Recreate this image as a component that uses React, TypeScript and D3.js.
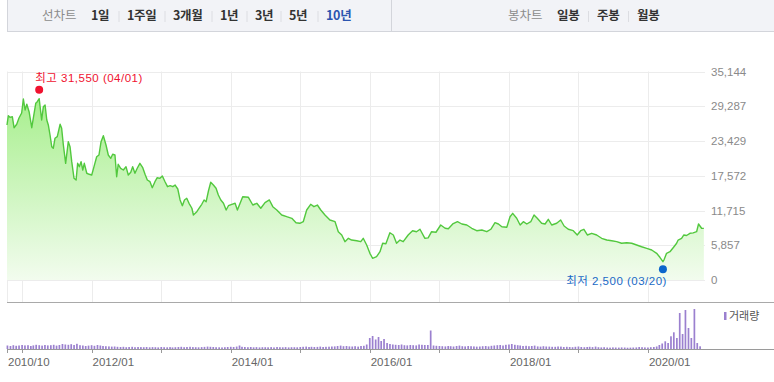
import React from "react";
import * as d3 from "d3";

const W = 774;
const H = 382;

// ---- price series (closing price, KRW) ----
const priceDates = [
  "2010-10-14","2010-10-21","2010-10-30","2010-11-11","2010-11-20","2010-12-04","2010-12-16","2010-12-30",
  "2011-01-08","2011-01-17","2011-01-26","2011-02-07","2011-02-21","2011-03-01","2011-03-14","2011-03-22",
  "2011-04-01","2011-04-14","2011-04-23","2011-05-02","2011-05-11","2011-05-19","2011-05-28","2011-06-06",
  "2011-06-14","2011-06-23","2011-07-05","2011-07-20","2011-07-28","2011-08-06","2011-08-18","2011-09-01",
  "2011-09-10","2011-09-19","2011-10-01","2011-10-12","2011-10-20","2011-10-29","2011-11-07","2011-11-16",
  "2011-11-24","2011-12-07","2011-12-20","2012-01-02","2012-01-14","2012-01-28","2012-02-09","2012-02-20",
  "2012-03-03","2012-03-17","2012-03-29","2012-04-11","2012-04-21","2012-05-03","2012-05-12","2012-05-20",
  "2012-06-02","2012-06-16","2012-06-30","2012-07-12","2012-07-25","2012-08-04","2012-08-16","2012-08-28",
  "2012-09-11","2012-09-26","2012-10-08","2012-10-20","2012-11-03","2012-11-15","2012-11-29","2012-12-11",
  "2012-12-25","2013-01-07","2013-01-21","2013-02-03","2013-02-17","2013-03-03","2013-03-15","2013-03-29",
  "2013-04-10","2013-04-22","2013-05-03","2013-05-15","2013-05-27","2013-06-11","2013-06-19","2013-07-07",
  "2013-07-21","2013-08-02","2013-08-14","2013-08-25","2013-09-06","2013-09-18","2013-10-02","2013-10-16",
  "2013-10-28","2013-11-10","2013-11-24","2013-12-08","2013-12-20","2014-01-07","2014-01-24","2014-02-05",
  "2014-03-05","2014-04-04","2014-04-27","2014-05-18","2014-06-08","2014-06-30","2014-07-23","2014-08-10",
  "2014-08-31","2014-09-26","2014-10-22","2014-11-18","2014-12-10","2014-12-30","2015-01-17","2015-02-04",
  "2015-02-25","2015-03-14","2015-04-01","2015-04-19","2015-05-11","2015-06-06","2015-07-03","2015-07-20",
  "2015-08-07","2015-08-24","2015-09-11","2015-09-28","2015-10-25","2015-11-15","2015-11-28","2015-12-16",
  "2016-01-02","2016-01-16","2016-02-06","2016-02-24","2016-03-09","2016-03-26","2016-04-16","2016-05-04",
  "2016-05-21","2016-06-08","2016-06-25","2016-07-21","2016-08-13","2016-09-03","2016-09-21","2016-10-17",
  "2016-11-03","2016-11-21","2016-12-14","2017-01-08","2017-01-31","2017-02-17","2017-03-12","2017-04-06",
  "2017-04-29","2017-05-25","2017-06-20","2017-07-16","2017-08-12","2017-09-07","2017-09-28","2017-10-20",
  "2017-11-07","2017-11-25","2017-12-21","2018-01-07","2018-01-21","2018-02-11","2018-03-01","2018-03-18",
  "2018-04-05","2018-04-26","2018-05-13","2018-05-30","2018-06-22","2018-07-10","2018-07-27","2018-08-14",
  "2018-09-09","2018-09-30","2018-10-18","2018-11-09","2018-12-05","2018-12-26","2019-01-13","2019-01-30",
  "2019-02-17","2019-03-12","2019-04-07","2019-05-03","2019-05-30","2019-06-25","2019-07-21","2019-08-16",
  "2019-09-12","2019-10-08","2019-11-03","2019-11-29","2019-12-26","2020-01-21","2020-02-16","2020-03-04",
  "2020-03-20","2020-03-27","2020-04-08","2020-04-26","2020-05-17","2020-05-31","2020-06-08","2020-06-26",
  "2020-07-08","2020-07-22","2020-08-09","2020-08-26","2020-09-13","2020-09-23","2020-10-09","2020-10-21",
];
const priceValues = [
  26130,27690,27420,27530,25670,26250,27310,28150,
  30510,28660,29620,28370,25670,27260,29790,30050,
  30560,26970,29210,29500,26970,26130,24440,22470,
  22200,23890,24160,26250,25570,22760,19670,23310,
  22470,19940,17140,16860,19670,19100,19940,18540,
  19670,17990,17820,17700,19100,20780,21070,23310,
  24320,22760,21070,20510,21190,21070,17410,19500,
  18830,18540,19100,17700,18150,19100,17990,18830,
  19670,18930,17820,16860,16570,15560,16570,17240,
  17140,17530,16570,15730,15900,15730,16010,15340,
  13490,12520,13490,13770,12930,12090,10960,11510,
  12190,12760,13490,13200,15000,16470,16010,15460,
  14330,13490,12930,11800,12520,12760,12930,11800,
  14040,13940,12640,12930,12090,13030,13490,12360,
  11800,10960,10670,10400,9660,9560,9830,11800,
  12760,12360,12640,11800,10960,10110,9830,8140,
  7590,6460,7030,6740,6620,6460,7030,5900,
  4500,3660,3930,4770,6190,6100,7970,7590,
  6190,6740,6460,7590,8310,8140,8550,7030,
  7100,8140,8050,9270,8720,8650,9440,9830,
  9440,9270,8720,8310,8430,8140,8550,9660,
  9440,8980,8900,10670,11240,10400,9270,9830,
  9440,9830,10960,10400,9560,9440,10230,9270,
  9560,10110,9100,8550,8310,7590,8310,8550,
  7590,7870,7590,7030,6740,6620,6460,6190,
  6290,6190,5900,5610,5340,5060,4500,3830,
  3080,3490,4500,4770,5610,6190,6740,7030,
  7590,7500,7870,7950,8140,9440,8720,8700,
];

// ---- volume, half-month buckets starting 2010-10 (2nd half) ----
const volumeStart = "2010-10-16";
const volumeValues = [
  35, 30,38, 32,35,
  40,36, 38,30, 36,42, 38,34, 40,36, 38,42, 34,40, 50,45, 42,48, 40,52, 38,35, 30,34,
  38,32, 40,35, 30,28, 26,24, 25,22, 20,22, 18,20, 22,18, 20,19, 18,20, 17,19, 18,16,
  20,18, 17,19, 16,18, 20,22, 18,20, 22,19, 18,17, 19,21, 24,22, 20,18, 17,16, 18,20,
  22,20, 24,35, 22,20, 18,20, 17,19, 16,18, 18,17, 19,16, 20,18, 17,19, 16,18, 18,17,
  20,22, 24,20, 22,20, 21,24, 20,22, 23,25, 26,30, 34,28, 30,26, 25,28, 24,30, 32,45,
  110,130, 95,120, 80,100, 60,50, 45,42, 40,45, 38,36, 40,38, 36,45, 42,40, 40,185, 35,32,
  30,28, 26,30, 28,25, 30,34, 28,26, 30,28, 26,24, 25,28, 30,26, 32,35, 38,40, 35,42,
  45,50, 42,38, 35,30, 32,28, 30,34, 26,24, 28,25, 24,22, 22,25, 24,20, 22,20, 18,22,
  25,20, 18,20, 22,19, 24,18, 16,18, 15,14, 16,15, 14,16, 15,13, 14,15, 16,20, 18,16,
  15,18, 20,25, 40,55, 77,60, 127,167, 110,360, 150,390, 210,110, 400,60, 27,
];

// ---- axes / labels ----
const yTickMax = 35144;
const yTickSteps = 6;
const xLabelled = ["2010/10", "2012/01", "2014/01", "2016/01", "2018/01", "2020/01"];
const domainStart = "2010-10-14";
const domainEnd = "2020-10-27";
const periodTabs = ["1일", "1주일", "3개월", "1년", "3년", "5년", "10년"];
const candleTabs = ["일봉", "주봉", "월봉"];
const maxMark = { date: "2011-04-01", value: 31550, label: "최고 31,550 (04/01)" };
const minMark = { date: "2020-03-20", value: 2500, label: "최저 2,500 (03/20)" };

// layout
const periodTabX = [91, 127, 173, 220, 255, 289, 326];
const candleTabX = [557, 597, 637];
const FONT = "'Liberation Sans', Arial, 'Noto Sans CJK KR', sans-serif";
const KFONT = "'Noto Sans CJK KR', 'Liberation Sans', sans-serif";

export default function App() {
  const parse = d3.timeParse("%Y-%m-%d");
  const fmt = d3.timeFormat("%Y/%m");
  const series = priceDates.map((d, i) => ({ date: parse(d) as Date, value: priceValues[i] }));

  const left = 7, right = 705;
  const x = d3.scaleTime().domain([parse(domainStart) as Date, parse(domainEnd) as Date]).range([left, right]);
  const y = d3.scaleLinear().domain([0, yTickMax]).range([280, 71.5]);
  const vTop = 302, vBase = 349;
  const vMax = (d3.max(volumeValues) as number) * 1.175;
  const yv = d3.scaleLinear().domain([0, vMax]).range([vBase, vTop]);

  const line = d3.line<any>().x((d) => x(d.date)).y((d) => y(d.value));
  const area = d3.area<any>().x((d) => x(d.date)).y0(y(0)).y1((d) => y(d.value));

  const yTicks = d3.range(yTickSteps + 1).map((i) => (yTickMax * i) / yTickSteps);
  const yearTicks = d3.timeYear.range(d3.timeYear.ceil(x.domain()[0]), x.domain()[1]);
  const xTicks = [x.domain()[0], ...yearTicks];

  const vStart = parse(volumeStart) as Date;
  const volBars = volumeValues.map((v, i) => {
    const k = i + 1;
    const m = d3.timeMonth.offset(d3.timeMonth.floor(vStart), Math.floor(k / 2));
    const date = k % 2 === 0 ? m : d3.timeDay.offset(m, 15);
    return { date, v };
  });

  const maxX = x(parse(maxMark.date) as Date);
  const maxY = y(maxMark.value) - 3;
  const minX = x(parse(minMark.date) as Date);
  const minY = y(minMark.value) + 4;

  return (
    <div>
      <style>{`body{margin:0}`}</style>
      <svg width={W} height={H} style={{ display: "block" }}>
        <defs>
          <linearGradient id="pg" gradientUnits="userSpaceOnUse" x1="0" x2="0" y1={y(yTickMax)} y2={y(0)}>
            <stop offset="0%" stopColor="#9ded80" />
            <stop offset="100%" stopColor="#f2fcee" />
          </linearGradient>
        </defs>
        <rect x={0} y={0} width={W} height={H} fill="#fff" />

        {/* toolbar */}
        <rect x={7.5} y={-1} width={W} height={32.5} fill="#f2f3f7" stroke="#d3d5db" />
        <line x1={391.5} x2={391.5} y1={0} y2={31} stroke="#d3d5db" />
        <text x={42} y={19.5} fontFamily={KFONT} fontSize={12.5} fill="#8c8c8c">선차트</text>
        {periodTabs.map((t, i) => (
          <g key={t}>
            {i > 0 && (
              <line x1={(periodTabX[i] - 8).toFixed(1)} x2={(periodTabX[i] - 8).toFixed(1)} y1={11} y2={22} stroke="#dcdde2" />
            )}
            <text x={periodTabX[i]} y={19.5} fontFamily={KFONT} fontSize={12.5} fontWeight={700}
              fill={i === periodTabs.length - 1 ? "#2b55b0" : "#333"} letterSpacing={-0.3}>{t}</text>
          </g>
        ))}
        <text x={508} y={19.5} fontFamily={KFONT} fontSize={12.5} fill="#8c8c8c">봉차트</text>
        {candleTabs.map((t, i) => (
          <g key={t}>
            {i > 0 && <line x1={candleTabX[i] - 8.5} x2={candleTabX[i] - 8.5} y1={11} y2={22} stroke="#dcdde2" />}
            <text x={candleTabX[i]} y={19.5} fontFamily={KFONT} fontSize={12.5} fontWeight={700} fill="#333" letterSpacing={-0.3}>{t}</text>
          </g>
        ))}

        {/* price grid */}
        {yTicks.map((t) => (
          <g key={t}>
            <line x1={left} x2={right} y1={Math.round(y(t)) + 0.5} y2={Math.round(y(t)) + 0.5} stroke="#ececec" />
            <text x={711} y={y(t) + 4} fontFamily={FONT} fontSize={11.5} fill="#8a8a8a">{d3.format(",.0f")(t)}</text>
          </g>
        ))}
        {xTicks.map((t, i) => (
          <line key={i} x1={Math.round(x(t)) + 0.5} x2={Math.round(x(t)) + 0.5} y1={71.5} y2={vTop} stroke="#ececec" />
        ))}

        {/* price area & line */}
        <path d={area(series) as string} fill="url(#pg)" />
        <path d={line(series) as string} fill="none" stroke="#52c83e" strokeWidth={1.4} strokeLinejoin="round" />

        {/* extremes */}
        <circle cx={maxX} cy={maxY} r={4} fill="#f0122f" />
        <text x={maxX - 4} y={81.5} fontFamily={FONT} fontSize={11.5} letterSpacing={0.5} fill="#f0122f">{maxMark.label}</text>
        <circle cx={minX} cy={minY} r={4} fill="#0b66cc" />
        <text x={minX + 4} y={284.5} textAnchor="end" fontFamily={FONT} fontSize={11.5} letterSpacing={0.5} fill="#1a6ac6">{minMark.label}</text>

        {/* volume panel */}
        <line x1={left} x2={W} y1={vTop + 0.5} y2={vTop + 0.5} stroke="#a9a9a9" />
        {volBars.map((b, i) => (
          <rect key={i} x={x(b.date) - 0.8} y={yv(b.v)} width={1.7} height={vBase - yv(b.v)} fill="#9b80cf" />
        ))}
        <line x1={left} x2={W} y1={vBase + 0.5} y2={vBase + 0.5} stroke="#9a9a9a" />
        {xTicks.map((t, i) => (
          <line key={i} x1={Math.round(x(t)) + 0.5} x2={Math.round(x(t)) + 0.5} y1={vBase} y2={vBase + 4} stroke="#9a9a9a" />
        ))}
        {xTicks.filter((t) => xLabelled.includes(fmt(t))).map((t, i) => (
          <text key={i} x={x(t) + 1} y={366} fontFamily={FONT} fontSize={11.5} fill="#666">{fmt(t)}</text>
        ))}
        <rect x={724} y={312} width={2.5} height={8} fill="#9b80cf" />
        <text x={729} y={320} fontFamily={KFONT} fontSize={11} fill="#555">거래량</text>
      </svg>
    </div>
  );
}
